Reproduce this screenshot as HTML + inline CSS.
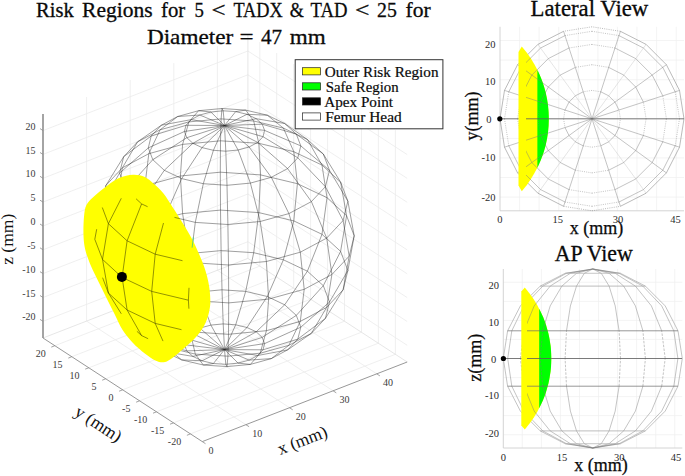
<!DOCTYPE html><html><head><meta charset="utf-8"><style>html,body{margin:0;padding:0;background:#fff}svg{display:block}</style></head><body><svg width="685" height="476" viewBox="0 0 685 476"><line x1="245.9" y1="424.7" x2="86.6" y2="321.1" stroke="#ebebeb" stroke-width="0.8" /><line x1="86.6" y1="321.1" x2="86.6" y2="97.0" stroke="#ebebeb" stroke-width="0.8" /><line x1="289.5" y1="407.7" x2="130.2" y2="304.1" stroke="#ebebeb" stroke-width="0.8" /><line x1="130.2" y1="304.1" x2="130.2" y2="80.0" stroke="#ebebeb" stroke-width="0.8" /><line x1="333.1" y1="390.8" x2="173.8" y2="287.2" stroke="#ebebeb" stroke-width="0.8" /><line x1="173.8" y1="287.2" x2="173.8" y2="63.1" stroke="#ebebeb" stroke-width="0.8" /><line x1="376.7" y1="373.8" x2="217.4" y2="270.3" stroke="#ebebeb" stroke-width="0.8" /><line x1="217.4" y1="270.3" x2="217.4" y2="46.2" stroke="#ebebeb" stroke-width="0.8" /><line x1="190.4" y1="433.9" x2="395.4" y2="354.3" stroke="#ebebeb" stroke-width="0.8" /><line x1="395.4" y1="354.3" x2="395.4" y2="130.2" stroke="#ebebeb" stroke-width="0.8" /><line x1="173.5" y1="422.9" x2="378.4" y2="343.2" stroke="#ebebeb" stroke-width="0.8" /><line x1="378.4" y1="343.2" x2="378.4" y2="119.2" stroke="#ebebeb" stroke-width="0.8" /><line x1="156.5" y1="411.8" x2="361.5" y2="332.2" stroke="#ebebeb" stroke-width="0.8" /><line x1="361.5" y1="332.2" x2="361.5" y2="108.1" stroke="#ebebeb" stroke-width="0.8" /><line x1="139.6" y1="400.8" x2="344.5" y2="321.2" stroke="#ebebeb" stroke-width="0.8" /><line x1="344.5" y1="321.2" x2="344.5" y2="97.1" stroke="#ebebeb" stroke-width="0.8" /><line x1="122.7" y1="389.8" x2="327.6" y2="310.2" stroke="#ebebeb" stroke-width="0.8" /><line x1="327.6" y1="310.2" x2="327.6" y2="86.1" stroke="#ebebeb" stroke-width="0.8" /><line x1="105.7" y1="378.8" x2="310.6" y2="299.2" stroke="#ebebeb" stroke-width="0.8" /><line x1="310.6" y1="299.2" x2="310.6" y2="75.1" stroke="#ebebeb" stroke-width="0.8" /><line x1="88.8" y1="367.8" x2="293.7" y2="288.1" stroke="#ebebeb" stroke-width="0.8" /><line x1="293.7" y1="288.1" x2="293.7" y2="64.1" stroke="#ebebeb" stroke-width="0.8" /><line x1="71.8" y1="356.7" x2="276.7" y2="277.1" stroke="#ebebeb" stroke-width="0.8" /><line x1="276.7" y1="277.1" x2="276.7" y2="53.0" stroke="#ebebeb" stroke-width="0.8" /><line x1="54.9" y1="345.7" x2="259.8" y2="266.1" stroke="#ebebeb" stroke-width="0.8" /><line x1="259.8" y1="266.1" x2="259.8" y2="42.0" stroke="#ebebeb" stroke-width="0.8" /><line x1="43.0" y1="321.3" x2="247.9" y2="241.7" stroke="#ebebeb" stroke-width="0.8" /><line x1="407.2" y1="345.3" x2="247.9" y2="241.7" stroke="#ebebeb" stroke-width="0.8" /><line x1="43.0" y1="297.5" x2="247.9" y2="217.9" stroke="#ebebeb" stroke-width="0.8" /><line x1="407.2" y1="321.5" x2="247.9" y2="217.9" stroke="#ebebeb" stroke-width="0.8" /><line x1="43.0" y1="273.6" x2="247.9" y2="194.0" stroke="#ebebeb" stroke-width="0.8" /><line x1="407.2" y1="297.6" x2="247.9" y2="194.0" stroke="#ebebeb" stroke-width="0.8" /><line x1="43.0" y1="249.8" x2="247.9" y2="170.2" stroke="#ebebeb" stroke-width="0.8" /><line x1="407.2" y1="273.8" x2="247.9" y2="170.2" stroke="#ebebeb" stroke-width="0.8" /><line x1="43.0" y1="226.0" x2="247.9" y2="146.3" stroke="#ebebeb" stroke-width="0.8" /><line x1="407.2" y1="249.9" x2="247.9" y2="146.3" stroke="#ebebeb" stroke-width="0.8" /><line x1="43.0" y1="202.1" x2="247.9" y2="122.5" stroke="#ebebeb" stroke-width="0.8" /><line x1="407.2" y1="226.1" x2="247.9" y2="122.5" stroke="#ebebeb" stroke-width="0.8" /><line x1="43.0" y1="178.3" x2="247.9" y2="98.7" stroke="#ebebeb" stroke-width="0.8" /><line x1="407.2" y1="202.3" x2="247.9" y2="98.7" stroke="#ebebeb" stroke-width="0.8" /><line x1="43.0" y1="154.4" x2="247.9" y2="74.8" stroke="#ebebeb" stroke-width="0.8" /><line x1="407.2" y1="178.4" x2="247.9" y2="74.8" stroke="#ebebeb" stroke-width="0.8" /><line x1="43.0" y1="130.6" x2="247.9" y2="51.0" stroke="#ebebeb" stroke-width="0.8" /><line x1="407.2" y1="154.6" x2="247.9" y2="51.0" stroke="#ebebeb" stroke-width="0.8" /><line x1="247.9" y1="258.4" x2="247.9" y2="34.3" stroke="#e0e0e0" stroke-width="0.8" /><line x1="43.0" y1="338.0" x2="247.9" y2="258.4" stroke="#e0e0e0" stroke-width="0.8" /><line x1="407.2" y1="362.0" x2="247.9" y2="258.4" stroke="#e0e0e0" stroke-width="0.8" /><g fill="none" stroke="#2a2a2a" stroke-width="0.45" stroke-linejoin="round"><polyline points="224.5,349.6 256.2,331.8 284.7,304.8 307.4,271.2 322.0,234.3 327.0,197.7 322.0,165.1 307.4,139.5 284.7,123.5 256.2,118.7 224.5,125.5"/><polyline points="224.5,349.6 247.0,327.5 267.3,296.5 283.4,259.8 293.8,220.9 297.4,183.7 293.8,151.7 283.4,128.1 267.3,115.2 247.0,114.3 224.5,125.5"/><polyline points="224.5,349.6 235.7,324.8 245.7,291.4 253.7,252.7 258.8,212.6 260.6,174.9 258.8,143.3 253.7,121.0 245.7,110.1 235.7,111.6 224.5,125.5"/><polyline points="224.5,349.6 223.2,323.9 222.0,289.8 221.1,250.6 220.5,210.1 220.3,172.2 220.5,140.8 221.1,118.9 222.0,108.5 223.2,110.8 224.5,125.5"/><polyline points="224.5,349.6 210.9,325.1 198.6,292.0 188.9,253.6 182.6,213.6 180.4,176.0 182.6,144.4 188.9,121.9 198.6,110.7 210.9,112.0 224.5,125.5"/><polyline points="224.5,349.6 199.9,328.1 177.7,297.8 160.1,261.5 148.8,222.9 144.9,185.8 148.8,153.7 160.1,129.8 177.7,116.5 199.9,115.0 224.5,125.5"/><polyline points="224.5,349.6 191.3,332.7 161.4,306.5 137.6,273.5 122.4,237.0 117.1,200.6 122.4,167.8 137.6,141.8 161.4,125.2 191.3,119.6 224.5,125.5"/><polyline points="224.5,349.6 186.0,338.4 151.2,317.3 123.7,288.4 106.0,254.6 99.9,219.0 106.0,185.3 123.7,156.7 151.2,136.0 186.0,125.3 224.5,125.5"/><polyline points="224.5,349.6 184.4,344.7 148.3,329.2 119.6,304.8 101.2,273.8 94.8,239.3 101.2,204.6 119.6,173.1 148.3,147.9 184.4,131.5 224.5,125.5"/><polyline points="224.5,349.6 186.8,350.9 152.8,341.0 125.8,321.1 108.4,293.0 102.5,259.4 108.4,223.7 125.8,189.4 152.8,159.7 186.8,137.7 224.5,125.5"/><polyline points="224.5,349.6 192.9,356.4 164.3,351.6 141.6,335.6 127.1,310.0 122.1,277.4 127.1,240.8 141.6,203.9 164.3,170.3 192.9,143.3 224.5,125.5"/><polyline points="224.5,349.6 202.0,360.8 181.7,359.9 165.6,347.0 155.2,323.4 151.7,291.4 155.2,254.2 165.6,215.3 181.7,178.6 202.0,147.6 224.5,125.5"/><polyline points="224.5,349.6 213.4,363.5 203.3,365.0 195.3,354.1 190.2,331.8 188.4,300.2 190.2,262.5 195.3,222.4 203.3,183.7 213.4,150.3 224.5,125.5"/><polyline points="224.5,349.6 225.8,364.3 227.0,366.6 227.9,356.2 228.5,334.3 228.7,302.9 228.5,265.0 227.9,224.5 227.0,185.3 225.8,151.2 224.5,125.5"/><polyline points="224.5,349.6 238.1,363.1 250.4,364.4 260.2,353.2 266.4,330.7 268.6,299.1 266.4,261.5 260.2,221.5 250.4,183.1 238.1,150.0 224.5,125.5"/><polyline points="224.5,349.6 249.1,360.1 271.3,358.6 288.9,345.3 300.3,321.4 304.2,289.3 300.3,252.2 288.9,213.6 271.3,177.3 249.1,147.0 224.5,125.5"/><polyline points="224.5,349.6 257.7,355.5 287.6,349.9 311.4,333.3 326.7,307.3 331.9,274.5 326.7,238.1 311.4,201.6 287.6,168.6 257.7,142.4 224.5,125.5"/><polyline points="224.5,349.6 263.0,349.8 297.8,339.1 325.4,318.4 343.1,289.8 349.2,256.1 343.1,220.5 325.4,186.7 297.8,157.8 263.0,136.7 224.5,125.5"/><polyline points="224.5,349.6 264.6,343.6 300.8,327.2 329.5,302.0 347.9,270.5 354.2,235.8 347.9,201.2 329.5,170.3 300.8,145.9 264.6,130.4 224.5,125.5"/><polyline points="224.5,349.6 262.2,337.4 296.3,315.4 323.3,285.7 340.6,251.4 346.6,215.7 340.6,182.1 323.3,154.0 296.3,134.1 262.2,124.2 224.5,125.5"/><polygon points="256.2,331.8 247.0,327.5 235.7,324.8 223.2,323.9 210.9,325.1 199.9,328.1 191.3,332.7 186.0,338.4 184.4,344.7 186.8,350.9 192.9,356.4 202.0,360.8 213.4,363.5 225.8,364.3 238.1,363.1 249.1,360.1 257.7,355.5 263.0,349.8 264.6,343.6 262.2,337.4"/><polygon points="284.7,304.8 267.3,296.5 245.7,291.4 222.0,289.8 198.6,292.0 177.7,297.8 161.4,306.5 151.2,317.3 148.3,329.2 152.8,341.0 164.3,351.6 181.7,359.9 203.3,365.0 227.0,366.6 250.4,364.4 271.3,358.6 287.6,349.9 297.8,339.1 300.8,327.2 296.3,315.4"/><polygon points="307.4,271.2 283.4,259.8 253.7,252.7 221.1,250.6 188.9,253.6 160.1,261.5 137.6,273.5 123.7,288.4 119.6,304.8 125.8,321.1 141.6,335.6 165.6,347.0 195.3,354.1 227.9,356.2 260.2,353.2 288.9,345.3 311.4,333.3 325.4,318.4 329.5,302.0 323.3,285.7"/><polygon points="322.0,234.3 293.8,220.9 258.8,212.6 220.5,210.1 182.6,213.6 148.8,222.9 122.4,237.0 106.0,254.6 101.2,273.8 108.4,293.0 127.1,310.0 155.2,323.4 190.2,331.8 228.5,334.3 266.4,330.7 300.3,321.4 326.7,307.3 343.1,289.8 347.9,270.5 340.6,251.4"/><polygon points="327.0,197.7 297.4,183.7 260.6,174.9 220.3,172.2 180.4,176.0 144.9,185.8 117.1,200.6 99.9,219.0 94.8,239.3 102.5,259.4 122.1,277.4 151.7,291.4 188.4,300.2 228.7,302.9 268.6,299.1 304.2,289.3 331.9,274.5 349.2,256.1 354.2,235.8 346.6,215.7"/><polygon points="322.0,165.1 293.8,151.7 258.8,143.3 220.5,140.8 182.6,144.4 148.8,153.7 122.4,167.8 106.0,185.3 101.2,204.6 108.4,223.7 127.1,240.8 155.2,254.2 190.2,262.5 228.5,265.0 266.4,261.5 300.3,252.2 326.7,238.1 343.1,220.5 347.9,201.2 340.6,182.1"/><polygon points="307.4,139.5 283.4,128.1 253.7,121.0 221.1,118.9 188.9,121.9 160.1,129.8 137.6,141.8 123.7,156.7 119.6,173.1 125.8,189.4 141.6,203.9 165.6,215.3 195.3,222.4 227.9,224.5 260.2,221.5 288.9,213.6 311.4,201.6 325.4,186.7 329.5,170.3 323.3,154.0"/><polygon points="284.7,123.5 267.3,115.2 245.7,110.1 222.0,108.5 198.6,110.7 177.7,116.5 161.4,125.2 151.2,136.0 148.3,147.9 152.8,159.7 164.3,170.3 181.7,178.6 203.3,183.7 227.0,185.3 250.4,183.1 271.3,177.3 287.6,168.6 297.8,157.8 300.8,145.9 296.3,134.1"/><polygon points="256.2,118.7 247.0,114.3 235.7,111.6 223.2,110.8 210.9,112.0 199.9,115.0 191.3,119.6 186.0,125.3 184.4,131.5 186.8,137.7 192.9,143.3 202.0,147.6 213.4,150.3 225.8,151.2 238.1,150.0 249.1,147.0 257.7,142.4 263.0,136.7 264.6,130.4 262.2,124.2"/></g><path d="M133.0,174.7 C137.3,174.5 141.3,175.4 144.8,177.0 C148.3,178.6 150.9,181.3 154.0,184.0 C157.1,186.7 160.4,189.5 163.5,193.4 C166.6,197.3 169.3,202.0 172.8,207.4 C176.3,212.8 181.0,220.2 184.5,226.0 C188.0,231.8 190.9,236.6 193.8,242.4 C196.7,248.2 199.8,255.6 202.0,261.0 C204.2,266.4 205.4,270.1 206.7,275.0 C208.0,279.9 209.1,285.1 209.7,290.4 C210.2,295.7 210.7,301.3 210.0,306.7 C209.3,312.1 207.8,317.9 205.5,323.0 C203.2,328.1 199.9,332.5 196.0,337.0 C192.1,341.5 186.2,346.3 182.0,350.0 C177.8,353.7 173.6,357.2 170.5,359.3 C167.4,361.4 166.0,362.1 163.5,362.3 C161.0,362.5 158.4,362.0 155.3,360.5 C152.2,359.0 148.5,356.4 144.8,353.5 C141.1,350.6 136.7,346.9 133.0,343.0 C129.3,339.1 125.7,334.9 122.6,330.0 C119.5,325.1 117.3,319.5 114.4,313.7 C111.5,307.9 108.1,301.3 105.0,295.0 C101.9,288.7 98.2,281.2 95.7,276.0 C93.2,270.8 91.7,267.9 89.9,263.5 C88.2,259.1 86.3,254.1 85.2,249.4 C84.1,244.7 83.7,240.9 83.5,235.4 C83.3,229.9 83.5,221.8 84.0,216.7 C84.5,211.6 84.8,208.3 86.4,205.0 C88.0,201.7 90.1,200.0 93.4,196.9 C96.7,193.8 101.9,189.6 106.2,186.4 C110.5,183.2 114.5,179.9 119.0,178.0 C123.5,176.1 128.7,174.9 133.0,174.7Z" fill="#ffff00"/><clipPath id="bc"><path d="M133.0,174.7 C137.3,174.5 141.3,175.4 144.8,177.0 C148.3,178.6 150.9,181.3 154.0,184.0 C157.1,186.7 160.4,189.5 163.5,193.4 C166.6,197.3 169.3,202.0 172.8,207.4 C176.3,212.8 181.0,220.2 184.5,226.0 C188.0,231.8 190.9,236.6 193.8,242.4 C196.7,248.2 199.8,255.6 202.0,261.0 C204.2,266.4 205.4,270.1 206.7,275.0 C208.0,279.9 209.1,285.1 209.7,290.4 C210.2,295.7 210.7,301.3 210.0,306.7 C209.3,312.1 207.8,317.9 205.5,323.0 C203.2,328.1 199.9,332.5 196.0,337.0 C192.1,341.5 186.2,346.3 182.0,350.0 C177.8,353.7 173.6,357.2 170.5,359.3 C167.4,361.4 166.0,362.1 163.5,362.3 C161.0,362.5 158.4,362.0 155.3,360.5 C152.2,359.0 148.5,356.4 144.8,353.5 C141.1,350.6 136.7,346.9 133.0,343.0 C129.3,339.1 125.7,334.9 122.6,330.0 C119.5,325.1 117.3,319.5 114.4,313.7 C111.5,307.9 108.1,301.3 105.0,295.0 C101.9,288.7 98.2,281.2 95.7,276.0 C93.2,270.8 91.7,267.9 89.9,263.5 C88.2,259.1 86.3,254.1 85.2,249.4 C84.1,244.7 83.7,240.9 83.5,235.4 C83.3,229.9 83.5,221.8 84.0,216.7 C84.5,211.6 84.8,208.3 86.4,205.0 C88.0,201.7 90.1,200.0 93.4,196.9 C96.7,193.8 101.9,189.6 106.2,186.4 C110.5,183.2 114.5,179.9 119.0,178.0 C123.5,176.1 128.7,174.9 133.0,174.7Z"/></clipPath><g fill="none" stroke="#3a3a00" stroke-width="0.55" clip-path="url(#bc)"><polyline points="141.6,203.9 127.1,240.8 122.1,277.4 127.1,310.0 141.6,335.6"/><polyline points="136.1,198.8 141.6,203.9 147.6,206.7"/><polyline points="102.3,207.5 108.4,223.7 127.1,240.8 155.2,254.2 182.5,260.7"/><polyline points="121.3,198.3 108.4,223.7 102.5,259.4 108.4,293.0 121.3,313.8"/><polyline points="163.5,223.0 155.2,254.2 151.7,291.4 155.2,323.4 163.0,341.1"/><polyline points="96.7,229.2 94.8,239.3 102.5,259.4 122.1,277.4 151.7,291.4 188.4,300.2"/><polyline points="189.0,287.8 188.4,300.2 188.9,308.7"/><polyline points="102.6,277.7 108.4,293.0 127.1,310.0 155.2,323.4 181.5,329.7"/><polyline points="136.9,331.3 141.6,335.6 148.1,338.7"/><polyline points="174.5,217.4 180.5,218.8"/></g><polyline points="193.4,237.2 192.1,247.7" fill="none" stroke="#40d080" stroke-width="0.8"/><circle cx="121.9" cy="276.9" r="5" fill="#000"/><line x1="43.0" y1="338.0" x2="43.0" y2="113.9" stroke="#a0a0a0" stroke-width="1.9" /><line x1="43.0" y1="338.0" x2="202.3" y2="441.6" stroke="#8c8c8c" stroke-width="0.9" /><line x1="202.3" y1="441.6" x2="407.2" y2="362.0" stroke="#8c8c8c" stroke-width="0.9" /><g font-family="Liberation Serif" font-size="10" fill="#3a3a3a"><line x1="43.0" y1="321.3" x2="40.0" y2="319.4" stroke="#8c8c8c" stroke-width="0.8" /><text x="35.5" y="320.4" text-anchor="end">-20</text><line x1="43.0" y1="297.5" x2="40.0" y2="295.5" stroke="#8c8c8c" stroke-width="0.8" /><text x="35.5" y="296.6" text-anchor="end">-15</text><line x1="43.0" y1="273.6" x2="40.0" y2="271.7" stroke="#8c8c8c" stroke-width="0.8" /><text x="35.5" y="272.7" text-anchor="end">-10</text><line x1="43.0" y1="249.8" x2="40.0" y2="247.8" stroke="#8c8c8c" stroke-width="0.8" /><text x="35.5" y="248.9" text-anchor="end">-5</text><line x1="43.0" y1="226.0" x2="40.0" y2="224.0" stroke="#8c8c8c" stroke-width="0.8" /><text x="35.5" y="225.1" text-anchor="end">0</text><line x1="43.0" y1="202.1" x2="40.0" y2="200.2" stroke="#8c8c8c" stroke-width="0.8" /><text x="35.5" y="201.2" text-anchor="end">5</text><line x1="43.0" y1="178.3" x2="40.0" y2="176.3" stroke="#8c8c8c" stroke-width="0.8" /><text x="35.5" y="177.4" text-anchor="end">10</text><line x1="43.0" y1="154.4" x2="40.0" y2="152.5" stroke="#8c8c8c" stroke-width="0.8" /><text x="35.5" y="153.5" text-anchor="end">15</text><line x1="43.0" y1="130.6" x2="40.0" y2="128.6" stroke="#8c8c8c" stroke-width="0.8" /><text x="35.5" y="129.7" text-anchor="end">20</text><line x1="190.4" y1="433.9" x2="186.9" y2="435.3" stroke="#8c8c8c" stroke-width="0.8" /><text x="181.2" y="444.8" text-anchor="end">-20</text><line x1="173.5" y1="422.9" x2="170.0" y2="424.2" stroke="#8c8c8c" stroke-width="0.8" /><text x="164.3" y="433.8" text-anchor="end">-15</text><line x1="156.5" y1="411.8" x2="153.0" y2="413.2" stroke="#8c8c8c" stroke-width="0.8" /><text x="147.3" y="422.7" text-anchor="end">-10</text><line x1="139.6" y1="400.8" x2="136.1" y2="402.2" stroke="#8c8c8c" stroke-width="0.8" /><text x="130.4" y="411.7" text-anchor="end">-5</text><line x1="122.7" y1="389.8" x2="119.1" y2="391.2" stroke="#8c8c8c" stroke-width="0.8" /><text x="113.5" y="400.7" text-anchor="end">0</text><line x1="105.7" y1="378.8" x2="102.2" y2="380.2" stroke="#8c8c8c" stroke-width="0.8" /><text x="96.5" y="389.7" text-anchor="end">5</text><line x1="88.8" y1="367.8" x2="85.2" y2="369.1" stroke="#8c8c8c" stroke-width="0.8" /><text x="79.6" y="378.7" text-anchor="end">10</text><line x1="71.8" y1="356.7" x2="68.3" y2="358.1" stroke="#8c8c8c" stroke-width="0.8" /><text x="62.6" y="367.6" text-anchor="end">15</text><line x1="54.9" y1="345.7" x2="51.3" y2="347.1" stroke="#8c8c8c" stroke-width="0.8" /><text x="45.7" y="356.6" text-anchor="end">20</text><line x1="202.3" y1="441.6" x2="205.5" y2="443.7" stroke="#8c8c8c" stroke-width="0.8" /><text x="208.6" y="454.0">0</text><line x1="245.9" y1="424.7" x2="249.1" y2="426.7" stroke="#8c8c8c" stroke-width="0.8" /><text x="252.2" y="437.1">10</text><line x1="289.5" y1="407.7" x2="292.7" y2="409.8" stroke="#8c8c8c" stroke-width="0.8" /><text x="295.8" y="420.1">20</text><line x1="333.1" y1="390.8" x2="336.3" y2="392.9" stroke="#8c8c8c" stroke-width="0.8" /><text x="339.4" y="403.2">30</text><line x1="376.7" y1="373.8" x2="379.9" y2="375.9" stroke="#8c8c8c" stroke-width="0.8" /><text x="383.0" y="386.2">40</text></g><g font-family="Liberation Serif" font-size="17.5" fill="#111" text-anchor="middle"><text transform="translate(12.9,239.3) rotate(-90)">z (mm)</text><text transform="translate(95.3,428.6) rotate(33)">y (mm)</text><text transform="translate(304.4,445.7) rotate(-21.2)">x (mm)</text></g><g font-family="Liberation Serif" font-size="21" fill="#0a0a0a" stroke="#0a0a0a" stroke-width="0.3"><text x="36.1" y="16.8" textLength="37.6" lengthAdjust="spacingAndGlyphs">Risk</text><text x="82.1" y="16.8" textLength="70.5" lengthAdjust="spacingAndGlyphs">Regions</text><text x="161.0" y="16.8" textLength="24.2" lengthAdjust="spacingAndGlyphs">for</text><text x="194.6" y="16.8" textLength="9.4" lengthAdjust="spacingAndGlyphs">5</text><text x="211.4" y="16.8" textLength="14.1" lengthAdjust="spacingAndGlyphs">&lt;</text><text x="233.4" y="16.8" textLength="49.3" lengthAdjust="spacingAndGlyphs">TADX</text><text x="289.8" y="16.8" textLength="14.1" lengthAdjust="spacingAndGlyphs">&amp;</text><text x="310.6" y="16.8" textLength="36.9" lengthAdjust="spacingAndGlyphs">TAD</text><text x="354.9" y="16.8" textLength="14.5" lengthAdjust="spacingAndGlyphs">&lt;</text><text x="377.1" y="16.8" textLength="19.8" lengthAdjust="spacingAndGlyphs">25</text><text x="405.6" y="16.8" textLength="25.2" lengthAdjust="spacingAndGlyphs">for</text></g><g font-family="Liberation Serif" font-size="21" fill="#0a0a0a" stroke="#0a0a0a" stroke-width="0.3"><text x="146.9" y="43.6" textLength="86.3" lengthAdjust="spacingAndGlyphs">Diameter</text><text x="239.4" y="43.6" textLength="14.1" lengthAdjust="spacingAndGlyphs">=</text><text x="260.9" y="43.6" textLength="21.1" lengthAdjust="spacingAndGlyphs">47</text><text x="289.8" y="43.6" textLength="35.9" lengthAdjust="spacingAndGlyphs">mm</text></g><rect x="295.2" y="59.7" width="147.7" height="69.1" fill="#fff" stroke="#333" stroke-width="1"/><g font-family="Liberation Serif" font-size="15" fill="#0a0a0a" stroke="#0a0a0a" stroke-width="0.2"><rect x="302.5" y="67.7" width="18" height="7.2" fill="#ffff00" stroke="#222" stroke-width="0.7"/><text x="324.7" y="76.9" textLength="113.8" lengthAdjust="spacingAndGlyphs">Outer Risk Region</text><rect x="302.5" y="82.8" width="18" height="7.2" fill="#00ff00" stroke="#222" stroke-width="0.7"/><text x="325.8" y="92.0" textLength="72.8" lengthAdjust="spacingAndGlyphs">Safe Region</text><rect x="302.5" y="97.8" width="18" height="7.2" fill="#000" stroke="#222" stroke-width="0.7"/><text x="324.2" y="107.0" textLength="68.8" lengthAdjust="spacingAndGlyphs">Apex Point</text><rect x="302.5" y="112.9" width="18" height="7.2" fill="#fff" stroke="#222" stroke-width="0.7"/><text x="325.2" y="122.1" textLength="76.5" lengthAdjust="spacingAndGlyphs">Femur Head</text></g><line x1="519.6" y1="210.8" x2="519.6" y2="26.8" stroke="#efefef" stroke-width="0.7" /><line x1="539.1" y1="210.8" x2="539.1" y2="26.8" stroke="#efefef" stroke-width="0.7" /><line x1="558.7" y1="210.8" x2="558.7" y2="26.8" stroke="#efefef" stroke-width="0.7" /><line x1="578.3" y1="210.8" x2="578.3" y2="26.8" stroke="#efefef" stroke-width="0.7" /><line x1="597.9" y1="210.8" x2="597.9" y2="26.8" stroke="#efefef" stroke-width="0.7" /><line x1="617.4" y1="210.8" x2="617.4" y2="26.8" stroke="#efefef" stroke-width="0.7" /><line x1="637.0" y1="210.8" x2="637.0" y2="26.8" stroke="#efefef" stroke-width="0.7" /><line x1="656.6" y1="210.8" x2="656.6" y2="26.8" stroke="#efefef" stroke-width="0.7" /><line x1="676.2" y1="210.8" x2="676.2" y2="26.8" stroke="#efefef" stroke-width="0.7" /><line x1="500.0" y1="197.1" x2="684.0" y2="197.1" stroke="#efefef" stroke-width="0.7" /><line x1="500.0" y1="177.5" x2="684.0" y2="177.5" stroke="#efefef" stroke-width="0.7" /><line x1="500.0" y1="157.9" x2="684.0" y2="157.9" stroke="#efefef" stroke-width="0.7" /><line x1="500.0" y1="138.4" x2="684.0" y2="138.4" stroke="#efefef" stroke-width="0.7" /><line x1="500.0" y1="118.8" x2="684.0" y2="118.8" stroke="#efefef" stroke-width="0.7" /><line x1="500.0" y1="99.2" x2="684.0" y2="99.2" stroke="#efefef" stroke-width="0.7" /><line x1="500.0" y1="79.7" x2="684.0" y2="79.7" stroke="#efefef" stroke-width="0.7" /><line x1="500.0" y1="60.1" x2="684.0" y2="60.1" stroke="#efefef" stroke-width="0.7" /><line x1="500.0" y1="40.5" x2="684.0" y2="40.5" stroke="#efefef" stroke-width="0.7" /><line x1="500.0" y1="210.8" x2="500.0" y2="26.8" stroke="#cfcfcf" stroke-width="0.9" /><line x1="500.0" y1="210.8" x2="684.0" y2="210.8" stroke="#cfcfcf" stroke-width="0.9" /><line x1="592.0" y1="118.8" x2="679.5" y2="90.4" stroke="#7c7c7c" stroke-width="0.45" /><line x1="592.0" y1="118.8" x2="666.4" y2="64.7" stroke="#7c7c7c" stroke-width="0.45" /><line x1="592.0" y1="118.8" x2="646.1" y2="44.4" stroke="#c4c4c4" stroke-width="0.45" /><line x1="592.0" y1="118.8" x2="620.4" y2="31.3" stroke="#7c7c7c" stroke-width="0.45" /><line x1="592.0" y1="118.8" x2="563.6" y2="31.3" stroke="#7c7c7c" stroke-width="0.45" /><line x1="592.0" y1="118.8" x2="537.9" y2="44.4" stroke="#c4c4c4" stroke-width="0.45" /><line x1="592.0" y1="118.8" x2="517.6" y2="64.7" stroke="#7c7c7c" stroke-width="0.45" /><line x1="592.0" y1="118.8" x2="504.5" y2="90.4" stroke="#7c7c7c" stroke-width="0.45" /><line x1="592.0" y1="118.8" x2="504.5" y2="147.2" stroke="#7c7c7c" stroke-width="0.45" /><line x1="592.0" y1="118.8" x2="517.6" y2="172.9" stroke="#7c7c7c" stroke-width="0.45" /><line x1="592.0" y1="118.8" x2="537.9" y2="193.2" stroke="#c4c4c4" stroke-width="0.45" /><line x1="592.0" y1="118.8" x2="563.6" y2="206.3" stroke="#7c7c7c" stroke-width="0.45" /><line x1="592.0" y1="118.8" x2="620.4" y2="206.3" stroke="#7c7c7c" stroke-width="0.45" /><line x1="592.0" y1="118.8" x2="646.1" y2="193.2" stroke="#c4c4c4" stroke-width="0.45" /><line x1="592.0" y1="118.8" x2="666.4" y2="172.9" stroke="#7c7c7c" stroke-width="0.45" /><line x1="592.0" y1="118.8" x2="679.5" y2="147.2" stroke="#7c7c7c" stroke-width="0.45" /><line x1="684.0" y1="118.8" x2="679.5" y2="90.4" stroke="#666" stroke-width="0.45" /><line x1="679.5" y1="90.4" x2="666.4" y2="64.7" stroke="#666" stroke-width="0.45" /><line x1="666.4" y1="64.7" x2="646.1" y2="44.4" stroke="#666" stroke-width="0.45" /><line x1="646.1" y1="44.4" x2="620.4" y2="31.3" stroke="#666" stroke-width="0.45" /><line x1="620.4" y1="31.3" x2="592.0" y2="26.8" stroke="#666" stroke-width="0.45" stroke-dasharray="1 1.2"/><line x1="592.0" y1="26.8" x2="563.6" y2="31.3" stroke="#666" stroke-width="0.45" stroke-dasharray="1 1.2"/><line x1="563.6" y1="31.3" x2="537.9" y2="44.4" stroke="#666" stroke-width="0.45" /><line x1="537.9" y1="44.4" x2="517.6" y2="64.7" stroke="#666" stroke-width="0.45" /><line x1="517.6" y1="64.7" x2="504.5" y2="90.4" stroke="#666" stroke-width="0.45" /><line x1="504.5" y1="90.4" x2="500.0" y2="118.8" stroke="#666" stroke-width="0.45" /><line x1="500.0" y1="118.8" x2="504.5" y2="147.2" stroke="#666" stroke-width="0.45" /><line x1="504.5" y1="147.2" x2="517.6" y2="172.9" stroke="#666" stroke-width="0.45" /><line x1="517.6" y1="172.9" x2="537.9" y2="193.2" stroke="#666" stroke-width="0.45" /><line x1="537.9" y1="193.2" x2="563.6" y2="206.3" stroke="#666" stroke-width="0.45" /><line x1="563.6" y1="206.3" x2="592.0" y2="210.8" stroke="#666" stroke-width="0.45" stroke-dasharray="1 1.2"/><line x1="592.0" y1="210.8" x2="620.4" y2="206.3" stroke="#666" stroke-width="0.45" stroke-dasharray="1 1.2"/><line x1="620.4" y1="206.3" x2="646.1" y2="193.2" stroke="#666" stroke-width="0.45" /><line x1="646.1" y1="193.2" x2="666.4" y2="172.9" stroke="#666" stroke-width="0.45" /><line x1="666.4" y1="172.9" x2="679.5" y2="147.2" stroke="#666" stroke-width="0.45" /><line x1="679.5" y1="147.2" x2="684.0" y2="118.8" stroke="#666" stroke-width="0.45" /><line x1="679.5" y1="118.8" x2="675.2" y2="91.8" stroke="#7c7c7c" stroke-width="0.45" stroke-dasharray="1 1.2"/><line x1="675.2" y1="91.8" x2="662.8" y2="67.4" stroke="#7c7c7c" stroke-width="0.45" /><line x1="662.8" y1="67.4" x2="643.4" y2="48.0" stroke="#7c7c7c" stroke-width="0.45" /><line x1="643.4" y1="48.0" x2="619.0" y2="35.6" stroke="#7c7c7c" stroke-width="0.45" /><line x1="619.0" y1="35.6" x2="592.0" y2="31.3" stroke="#7c7c7c" stroke-width="0.45" stroke-dasharray="1 1.2"/><line x1="592.0" y1="31.3" x2="565.0" y2="35.6" stroke="#7c7c7c" stroke-width="0.45" stroke-dasharray="1 1.2"/><line x1="565.0" y1="35.6" x2="540.6" y2="48.0" stroke="#7c7c7c" stroke-width="0.45" /><line x1="540.6" y1="48.0" x2="521.2" y2="67.4" stroke="#7c7c7c" stroke-width="0.45" /><line x1="521.2" y1="67.4" x2="508.8" y2="91.8" stroke="#7c7c7c" stroke-width="0.45" /><line x1="508.8" y1="91.8" x2="504.5" y2="118.8" stroke="#7c7c7c" stroke-width="0.45" stroke-dasharray="1 1.2"/><line x1="504.5" y1="118.8" x2="508.8" y2="145.8" stroke="#7c7c7c" stroke-width="0.45" stroke-dasharray="1 1.2"/><line x1="508.8" y1="145.8" x2="521.2" y2="170.2" stroke="#7c7c7c" stroke-width="0.45" /><line x1="521.2" y1="170.2" x2="540.6" y2="189.6" stroke="#7c7c7c" stroke-width="0.45" /><line x1="540.6" y1="189.6" x2="565.0" y2="202.0" stroke="#7c7c7c" stroke-width="0.45" /><line x1="565.0" y1="202.0" x2="592.0" y2="206.3" stroke="#7c7c7c" stroke-width="0.45" stroke-dasharray="1 1.2"/><line x1="592.0" y1="206.3" x2="619.0" y2="202.0" stroke="#7c7c7c" stroke-width="0.45" stroke-dasharray="1 1.2"/><line x1="619.0" y1="202.0" x2="643.4" y2="189.6" stroke="#7c7c7c" stroke-width="0.45" /><line x1="643.4" y1="189.6" x2="662.8" y2="170.2" stroke="#7c7c7c" stroke-width="0.45" /><line x1="662.8" y1="170.2" x2="675.2" y2="145.8" stroke="#7c7c7c" stroke-width="0.45" /><line x1="675.2" y1="145.8" x2="679.5" y2="118.8" stroke="#7c7c7c" stroke-width="0.45" stroke-dasharray="1 1.2"/><line x1="666.4" y1="118.8" x2="662.8" y2="95.8" stroke="#7c7c7c" stroke-width="0.45" stroke-dasharray="1 1.2"/><line x1="662.8" y1="95.8" x2="652.2" y2="75.1" stroke="#7c7c7c" stroke-width="0.45" /><line x1="652.2" y1="75.1" x2="635.7" y2="58.6" stroke="#7c7c7c" stroke-width="0.45" /><line x1="635.7" y1="58.6" x2="615.0" y2="48.0" stroke="#7c7c7c" stroke-width="0.45" /><line x1="615.0" y1="48.0" x2="592.0" y2="44.4" stroke="#7c7c7c" stroke-width="0.45" stroke-dasharray="1 1.2"/><line x1="592.0" y1="44.4" x2="569.0" y2="48.0" stroke="#7c7c7c" stroke-width="0.45" stroke-dasharray="1 1.2"/><line x1="569.0" y1="48.0" x2="548.3" y2="58.6" stroke="#7c7c7c" stroke-width="0.45" /><line x1="548.3" y1="58.6" x2="531.8" y2="75.1" stroke="#7c7c7c" stroke-width="0.45" /><line x1="531.8" y1="75.1" x2="521.2" y2="95.8" stroke="#7c7c7c" stroke-width="0.45" /><line x1="521.2" y1="95.8" x2="517.6" y2="118.8" stroke="#7c7c7c" stroke-width="0.45" stroke-dasharray="1 1.2"/><line x1="517.6" y1="118.8" x2="521.2" y2="141.8" stroke="#7c7c7c" stroke-width="0.45" stroke-dasharray="1 1.2"/><line x1="521.2" y1="141.8" x2="531.8" y2="162.5" stroke="#7c7c7c" stroke-width="0.45" /><line x1="531.8" y1="162.5" x2="548.3" y2="179.0" stroke="#7c7c7c" stroke-width="0.45" /><line x1="548.3" y1="179.0" x2="569.0" y2="189.6" stroke="#7c7c7c" stroke-width="0.45" /><line x1="569.0" y1="189.6" x2="592.0" y2="193.2" stroke="#7c7c7c" stroke-width="0.45" stroke-dasharray="1 1.2"/><line x1="592.0" y1="193.2" x2="615.0" y2="189.6" stroke="#7c7c7c" stroke-width="0.45" stroke-dasharray="1 1.2"/><line x1="615.0" y1="189.6" x2="635.7" y2="179.0" stroke="#7c7c7c" stroke-width="0.45" /><line x1="635.7" y1="179.0" x2="652.2" y2="162.5" stroke="#7c7c7c" stroke-width="0.45" /><line x1="652.2" y1="162.5" x2="662.8" y2="141.8" stroke="#7c7c7c" stroke-width="0.45" /><line x1="662.8" y1="141.8" x2="666.4" y2="118.8" stroke="#7c7c7c" stroke-width="0.45" stroke-dasharray="1 1.2"/><line x1="646.1" y1="118.8" x2="643.4" y2="102.1" stroke="#7c7c7c" stroke-width="0.45" stroke-dasharray="1 1.2"/><line x1="643.4" y1="102.1" x2="635.7" y2="87.0" stroke="#7c7c7c" stroke-width="0.45" /><line x1="635.7" y1="87.0" x2="623.8" y2="75.1" stroke="#7c7c7c" stroke-width="0.45" /><line x1="623.8" y1="75.1" x2="608.7" y2="67.4" stroke="#7c7c7c" stroke-width="0.45" /><line x1="608.7" y1="67.4" x2="592.0" y2="64.7" stroke="#7c7c7c" stroke-width="0.45" stroke-dasharray="1 1.2"/><line x1="592.0" y1="64.7" x2="575.3" y2="67.4" stroke="#7c7c7c" stroke-width="0.45" stroke-dasharray="1 1.2"/><line x1="575.3" y1="67.4" x2="560.2" y2="75.1" stroke="#7c7c7c" stroke-width="0.45" /><line x1="560.2" y1="75.1" x2="548.3" y2="87.0" stroke="#7c7c7c" stroke-width="0.45" /><line x1="548.3" y1="87.0" x2="540.6" y2="102.1" stroke="#7c7c7c" stroke-width="0.45" /><line x1="540.6" y1="102.1" x2="537.9" y2="118.8" stroke="#7c7c7c" stroke-width="0.45" stroke-dasharray="1 1.2"/><line x1="537.9" y1="118.8" x2="540.6" y2="135.5" stroke="#7c7c7c" stroke-width="0.45" stroke-dasharray="1 1.2"/><line x1="540.6" y1="135.5" x2="548.3" y2="150.6" stroke="#7c7c7c" stroke-width="0.45" /><line x1="548.3" y1="150.6" x2="560.2" y2="162.5" stroke="#7c7c7c" stroke-width="0.45" /><line x1="560.2" y1="162.5" x2="575.3" y2="170.2" stroke="#7c7c7c" stroke-width="0.45" /><line x1="575.3" y1="170.2" x2="592.0" y2="172.9" stroke="#7c7c7c" stroke-width="0.45" stroke-dasharray="1 1.2"/><line x1="592.0" y1="172.9" x2="608.7" y2="170.2" stroke="#7c7c7c" stroke-width="0.45" stroke-dasharray="1 1.2"/><line x1="608.7" y1="170.2" x2="623.8" y2="162.5" stroke="#7c7c7c" stroke-width="0.45" /><line x1="623.8" y1="162.5" x2="635.7" y2="150.6" stroke="#7c7c7c" stroke-width="0.45" /><line x1="635.7" y1="150.6" x2="643.4" y2="135.5" stroke="#7c7c7c" stroke-width="0.45" /><line x1="643.4" y1="135.5" x2="646.1" y2="118.8" stroke="#7c7c7c" stroke-width="0.45" stroke-dasharray="1 1.2"/><line x1="620.4" y1="118.8" x2="619.0" y2="110.0" stroke="#7c7c7c" stroke-width="0.45" stroke-dasharray="1 1.2"/><line x1="619.0" y1="110.0" x2="615.0" y2="102.1" stroke="#7c7c7c" stroke-width="0.45" /><line x1="615.0" y1="102.1" x2="608.7" y2="95.8" stroke="#7c7c7c" stroke-width="0.45" /><line x1="608.7" y1="95.8" x2="600.8" y2="91.8" stroke="#7c7c7c" stroke-width="0.45" /><line x1="600.8" y1="91.8" x2="592.0" y2="90.4" stroke="#7c7c7c" stroke-width="0.45" stroke-dasharray="1 1.2"/><line x1="592.0" y1="90.4" x2="583.2" y2="91.8" stroke="#7c7c7c" stroke-width="0.45" stroke-dasharray="1 1.2"/><line x1="583.2" y1="91.8" x2="575.3" y2="95.8" stroke="#7c7c7c" stroke-width="0.45" /><line x1="575.3" y1="95.8" x2="569.0" y2="102.1" stroke="#7c7c7c" stroke-width="0.45" /><line x1="569.0" y1="102.1" x2="565.0" y2="110.0" stroke="#7c7c7c" stroke-width="0.45" /><line x1="565.0" y1="110.0" x2="563.6" y2="118.8" stroke="#7c7c7c" stroke-width="0.45" stroke-dasharray="1 1.2"/><line x1="563.6" y1="118.8" x2="565.0" y2="127.6" stroke="#7c7c7c" stroke-width="0.45" stroke-dasharray="1 1.2"/><line x1="565.0" y1="127.6" x2="569.0" y2="135.5" stroke="#7c7c7c" stroke-width="0.45" /><line x1="569.0" y1="135.5" x2="575.3" y2="141.8" stroke="#7c7c7c" stroke-width="0.45" /><line x1="575.3" y1="141.8" x2="583.2" y2="145.8" stroke="#7c7c7c" stroke-width="0.45" /><line x1="583.2" y1="145.8" x2="592.0" y2="147.2" stroke="#7c7c7c" stroke-width="0.45" stroke-dasharray="1 1.2"/><line x1="592.0" y1="147.2" x2="600.8" y2="145.8" stroke="#7c7c7c" stroke-width="0.45" stroke-dasharray="1 1.2"/><line x1="600.8" y1="145.8" x2="608.7" y2="141.8" stroke="#7c7c7c" stroke-width="0.45" /><line x1="608.7" y1="141.8" x2="615.0" y2="135.5" stroke="#7c7c7c" stroke-width="0.45" /><line x1="615.0" y1="135.5" x2="619.0" y2="127.6" stroke="#7c7c7c" stroke-width="0.45" /><line x1="619.0" y1="127.6" x2="620.4" y2="118.8" stroke="#7c7c7c" stroke-width="0.45" stroke-dasharray="1 1.2"/><line x1="499.8" y1="118.8" x2="684.0" y2="118.8" stroke="#5a5a5a" stroke-width="0.8" /><polygon points="521.8,46.4 526.7,52.4 530.9,58.5 534.5,64.5 537.7,70.5 540.4,76.6 542.7,82.6 544.6,88.6 546.1,94.7 547.3,100.7 548.1,106.7 548.6,112.8 548.8,118.8 548.6,124.8 548.1,130.9 547.3,136.9 546.1,142.9 544.6,149.0 542.7,155.0 540.4,161.0 537.7,167.1 534.5,173.1 530.9,179.1 526.7,185.2 521.8,191.2 518.5,185.6 518.5,52.0" fill="#ffff00"/><polygon points="537.4,69.9 539.3,74.0 541.0,78.1 542.5,82.1 543.9,86.2 545.1,90.3 546.1,94.4 546.9,98.4 547.6,102.5 548.1,106.6 548.5,110.7 548.7,114.7 548.8,118.8 548.7,122.9 548.5,126.9 548.1,131.0 547.6,135.1 546.9,139.2 546.1,143.2 545.1,147.3 543.9,151.4 542.5,155.5 541.0,159.5 539.3,163.6 537.4,167.7" fill="#00ff00"/><clipPath id="lc"><polygon points="521.8,46.4 526.7,52.4 530.9,58.5 534.5,64.5 537.7,70.5 540.4,76.6 542.7,82.6 544.6,88.6 546.1,94.7 547.3,100.7 548.1,106.7 548.6,112.8 548.8,118.8 548.6,124.8 548.1,130.9 547.3,136.9 546.1,142.9 544.6,149.0 542.7,155.0 540.4,161.0 537.7,167.1 534.5,173.1 530.9,179.1 526.7,185.2 521.8,191.2 518.5,185.6 518.5,52.0"/></clipPath><clipPath id="lcb"><rect x="526.0" y="0" width="200" height="476"/></clipPath><g clip-path="url(#lc)"><g clip-path="url(#lcb)"><line x1="592.0" y1="118.8" x2="679.5" y2="90.4" stroke="#7c7c7c" stroke-width="0.45" /><line x1="592.0" y1="118.8" x2="666.4" y2="64.7" stroke="#7c7c7c" stroke-width="0.45" /><line x1="592.0" y1="118.8" x2="646.1" y2="44.4" stroke="#c4c4c4" stroke-width="0.45" /><line x1="592.0" y1="118.8" x2="620.4" y2="31.3" stroke="#7c7c7c" stroke-width="0.45" /><line x1="592.0" y1="118.8" x2="563.6" y2="31.3" stroke="#7c7c7c" stroke-width="0.45" /><line x1="592.0" y1="118.8" x2="537.9" y2="44.4" stroke="#c4c4c4" stroke-width="0.45" /><line x1="592.0" y1="118.8" x2="517.6" y2="64.7" stroke="#7c7c7c" stroke-width="0.45" /><line x1="592.0" y1="118.8" x2="504.5" y2="90.4" stroke="#7c7c7c" stroke-width="0.45" /><line x1="592.0" y1="118.8" x2="504.5" y2="147.2" stroke="#7c7c7c" stroke-width="0.45" /><line x1="592.0" y1="118.8" x2="517.6" y2="172.9" stroke="#7c7c7c" stroke-width="0.45" /><line x1="592.0" y1="118.8" x2="537.9" y2="193.2" stroke="#c4c4c4" stroke-width="0.45" /><line x1="592.0" y1="118.8" x2="563.6" y2="206.3" stroke="#7c7c7c" stroke-width="0.45" /><line x1="592.0" y1="118.8" x2="620.4" y2="206.3" stroke="#7c7c7c" stroke-width="0.45" /><line x1="592.0" y1="118.8" x2="646.1" y2="193.2" stroke="#c4c4c4" stroke-width="0.45" /><line x1="592.0" y1="118.8" x2="666.4" y2="172.9" stroke="#7c7c7c" stroke-width="0.45" /><line x1="592.0" y1="118.8" x2="679.5" y2="147.2" stroke="#7c7c7c" stroke-width="0.45" /><line x1="679.5" y1="118.8" x2="675.2" y2="91.8" stroke="#7c7c7c" stroke-width="0.45" stroke-dasharray="1 1.2"/><line x1="675.2" y1="91.8" x2="662.8" y2="67.4" stroke="#7c7c7c" stroke-width="0.45" /><line x1="662.8" y1="67.4" x2="643.4" y2="48.0" stroke="#7c7c7c" stroke-width="0.45" /><line x1="643.4" y1="48.0" x2="619.0" y2="35.6" stroke="#7c7c7c" stroke-width="0.45" /><line x1="619.0" y1="35.6" x2="592.0" y2="31.3" stroke="#7c7c7c" stroke-width="0.45" stroke-dasharray="1 1.2"/><line x1="592.0" y1="31.3" x2="565.0" y2="35.6" stroke="#7c7c7c" stroke-width="0.45" stroke-dasharray="1 1.2"/><line x1="565.0" y1="35.6" x2="540.6" y2="48.0" stroke="#7c7c7c" stroke-width="0.45" /><line x1="540.6" y1="48.0" x2="521.2" y2="67.4" stroke="#7c7c7c" stroke-width="0.45" /><line x1="521.2" y1="67.4" x2="508.8" y2="91.8" stroke="#7c7c7c" stroke-width="0.45" /><line x1="508.8" y1="91.8" x2="504.5" y2="118.8" stroke="#7c7c7c" stroke-width="0.45" stroke-dasharray="1 1.2"/><line x1="504.5" y1="118.8" x2="508.8" y2="145.8" stroke="#7c7c7c" stroke-width="0.45" stroke-dasharray="1 1.2"/><line x1="508.8" y1="145.8" x2="521.2" y2="170.2" stroke="#7c7c7c" stroke-width="0.45" /><line x1="521.2" y1="170.2" x2="540.6" y2="189.6" stroke="#7c7c7c" stroke-width="0.45" /><line x1="540.6" y1="189.6" x2="565.0" y2="202.0" stroke="#7c7c7c" stroke-width="0.45" /><line x1="565.0" y1="202.0" x2="592.0" y2="206.3" stroke="#7c7c7c" stroke-width="0.45" stroke-dasharray="1 1.2"/><line x1="592.0" y1="206.3" x2="619.0" y2="202.0" stroke="#7c7c7c" stroke-width="0.45" stroke-dasharray="1 1.2"/><line x1="619.0" y1="202.0" x2="643.4" y2="189.6" stroke="#7c7c7c" stroke-width="0.45" /><line x1="643.4" y1="189.6" x2="662.8" y2="170.2" stroke="#7c7c7c" stroke-width="0.45" /><line x1="662.8" y1="170.2" x2="675.2" y2="145.8" stroke="#7c7c7c" stroke-width="0.45" /><line x1="675.2" y1="145.8" x2="679.5" y2="118.8" stroke="#7c7c7c" stroke-width="0.45" stroke-dasharray="1 1.2"/><line x1="666.4" y1="118.8" x2="662.8" y2="95.8" stroke="#7c7c7c" stroke-width="0.45" stroke-dasharray="1 1.2"/><line x1="662.8" y1="95.8" x2="652.2" y2="75.1" stroke="#7c7c7c" stroke-width="0.45" /><line x1="652.2" y1="75.1" x2="635.7" y2="58.6" stroke="#7c7c7c" stroke-width="0.45" /><line x1="635.7" y1="58.6" x2="615.0" y2="48.0" stroke="#7c7c7c" stroke-width="0.45" /><line x1="615.0" y1="48.0" x2="592.0" y2="44.4" stroke="#7c7c7c" stroke-width="0.45" stroke-dasharray="1 1.2"/><line x1="592.0" y1="44.4" x2="569.0" y2="48.0" stroke="#7c7c7c" stroke-width="0.45" stroke-dasharray="1 1.2"/><line x1="569.0" y1="48.0" x2="548.3" y2="58.6" stroke="#7c7c7c" stroke-width="0.45" /><line x1="548.3" y1="58.6" x2="531.8" y2="75.1" stroke="#7c7c7c" stroke-width="0.45" /><line x1="531.8" y1="75.1" x2="521.2" y2="95.8" stroke="#7c7c7c" stroke-width="0.45" /><line x1="521.2" y1="95.8" x2="517.6" y2="118.8" stroke="#7c7c7c" stroke-width="0.45" stroke-dasharray="1 1.2"/><line x1="517.6" y1="118.8" x2="521.2" y2="141.8" stroke="#7c7c7c" stroke-width="0.45" stroke-dasharray="1 1.2"/><line x1="521.2" y1="141.8" x2="531.8" y2="162.5" stroke="#7c7c7c" stroke-width="0.45" /><line x1="531.8" y1="162.5" x2="548.3" y2="179.0" stroke="#7c7c7c" stroke-width="0.45" /><line x1="548.3" y1="179.0" x2="569.0" y2="189.6" stroke="#7c7c7c" stroke-width="0.45" /><line x1="569.0" y1="189.6" x2="592.0" y2="193.2" stroke="#7c7c7c" stroke-width="0.45" stroke-dasharray="1 1.2"/><line x1="592.0" y1="193.2" x2="615.0" y2="189.6" stroke="#7c7c7c" stroke-width="0.45" stroke-dasharray="1 1.2"/><line x1="615.0" y1="189.6" x2="635.7" y2="179.0" stroke="#7c7c7c" stroke-width="0.45" /><line x1="635.7" y1="179.0" x2="652.2" y2="162.5" stroke="#7c7c7c" stroke-width="0.45" /><line x1="652.2" y1="162.5" x2="662.8" y2="141.8" stroke="#7c7c7c" stroke-width="0.45" /><line x1="662.8" y1="141.8" x2="666.4" y2="118.8" stroke="#7c7c7c" stroke-width="0.45" stroke-dasharray="1 1.2"/><line x1="646.1" y1="118.8" x2="643.4" y2="102.1" stroke="#7c7c7c" stroke-width="0.45" stroke-dasharray="1 1.2"/><line x1="643.4" y1="102.1" x2="635.7" y2="87.0" stroke="#7c7c7c" stroke-width="0.45" /><line x1="635.7" y1="87.0" x2="623.8" y2="75.1" stroke="#7c7c7c" stroke-width="0.45" /><line x1="623.8" y1="75.1" x2="608.7" y2="67.4" stroke="#7c7c7c" stroke-width="0.45" /><line x1="608.7" y1="67.4" x2="592.0" y2="64.7" stroke="#7c7c7c" stroke-width="0.45" stroke-dasharray="1 1.2"/><line x1="592.0" y1="64.7" x2="575.3" y2="67.4" stroke="#7c7c7c" stroke-width="0.45" stroke-dasharray="1 1.2"/><line x1="575.3" y1="67.4" x2="560.2" y2="75.1" stroke="#7c7c7c" stroke-width="0.45" /><line x1="560.2" y1="75.1" x2="548.3" y2="87.0" stroke="#7c7c7c" stroke-width="0.45" /><line x1="548.3" y1="87.0" x2="540.6" y2="102.1" stroke="#7c7c7c" stroke-width="0.45" /><line x1="540.6" y1="102.1" x2="537.9" y2="118.8" stroke="#7c7c7c" stroke-width="0.45" stroke-dasharray="1 1.2"/><line x1="537.9" y1="118.8" x2="540.6" y2="135.5" stroke="#7c7c7c" stroke-width="0.45" stroke-dasharray="1 1.2"/><line x1="540.6" y1="135.5" x2="548.3" y2="150.6" stroke="#7c7c7c" stroke-width="0.45" /><line x1="548.3" y1="150.6" x2="560.2" y2="162.5" stroke="#7c7c7c" stroke-width="0.45" /><line x1="560.2" y1="162.5" x2="575.3" y2="170.2" stroke="#7c7c7c" stroke-width="0.45" /><line x1="575.3" y1="170.2" x2="592.0" y2="172.9" stroke="#7c7c7c" stroke-width="0.45" stroke-dasharray="1 1.2"/><line x1="592.0" y1="172.9" x2="608.7" y2="170.2" stroke="#7c7c7c" stroke-width="0.45" stroke-dasharray="1 1.2"/><line x1="608.7" y1="170.2" x2="623.8" y2="162.5" stroke="#7c7c7c" stroke-width="0.45" /><line x1="623.8" y1="162.5" x2="635.7" y2="150.6" stroke="#7c7c7c" stroke-width="0.45" /><line x1="635.7" y1="150.6" x2="643.4" y2="135.5" stroke="#7c7c7c" stroke-width="0.45" /><line x1="643.4" y1="135.5" x2="646.1" y2="118.8" stroke="#7c7c7c" stroke-width="0.45" stroke-dasharray="1 1.2"/><line x1="620.4" y1="118.8" x2="619.0" y2="110.0" stroke="#7c7c7c" stroke-width="0.45" stroke-dasharray="1 1.2"/><line x1="619.0" y1="110.0" x2="615.0" y2="102.1" stroke="#7c7c7c" stroke-width="0.45" /><line x1="615.0" y1="102.1" x2="608.7" y2="95.8" stroke="#7c7c7c" stroke-width="0.45" /><line x1="608.7" y1="95.8" x2="600.8" y2="91.8" stroke="#7c7c7c" stroke-width="0.45" /><line x1="600.8" y1="91.8" x2="592.0" y2="90.4" stroke="#7c7c7c" stroke-width="0.45" stroke-dasharray="1 1.2"/><line x1="592.0" y1="90.4" x2="583.2" y2="91.8" stroke="#7c7c7c" stroke-width="0.45" stroke-dasharray="1 1.2"/><line x1="583.2" y1="91.8" x2="575.3" y2="95.8" stroke="#7c7c7c" stroke-width="0.45" /><line x1="575.3" y1="95.8" x2="569.0" y2="102.1" stroke="#7c7c7c" stroke-width="0.45" /><line x1="569.0" y1="102.1" x2="565.0" y2="110.0" stroke="#7c7c7c" stroke-width="0.45" /><line x1="565.0" y1="110.0" x2="563.6" y2="118.8" stroke="#7c7c7c" stroke-width="0.45" stroke-dasharray="1 1.2"/><line x1="563.6" y1="118.8" x2="565.0" y2="127.6" stroke="#7c7c7c" stroke-width="0.45" stroke-dasharray="1 1.2"/><line x1="565.0" y1="127.6" x2="569.0" y2="135.5" stroke="#7c7c7c" stroke-width="0.45" /><line x1="569.0" y1="135.5" x2="575.3" y2="141.8" stroke="#7c7c7c" stroke-width="0.45" /><line x1="575.3" y1="141.8" x2="583.2" y2="145.8" stroke="#7c7c7c" stroke-width="0.45" /><line x1="583.2" y1="145.8" x2="592.0" y2="147.2" stroke="#7c7c7c" stroke-width="0.45" stroke-dasharray="1 1.2"/><line x1="592.0" y1="147.2" x2="600.8" y2="145.8" stroke="#7c7c7c" stroke-width="0.45" stroke-dasharray="1 1.2"/><line x1="600.8" y1="145.8" x2="608.7" y2="141.8" stroke="#7c7c7c" stroke-width="0.45" /><line x1="608.7" y1="141.8" x2="615.0" y2="135.5" stroke="#7c7c7c" stroke-width="0.45" /><line x1="615.0" y1="135.5" x2="619.0" y2="127.6" stroke="#7c7c7c" stroke-width="0.45" /><line x1="619.0" y1="127.6" x2="620.4" y2="118.8" stroke="#7c7c7c" stroke-width="0.45" stroke-dasharray="1 1.2"/><line x1="499.8" y1="118.8" x2="684.0" y2="118.8" stroke="#5a5a5a" stroke-width="0.8" /></g></g><circle cx="499.8" cy="118.8" r="2.6" fill="#000"/><line x1="522.3" y1="448.0" x2="522.3" y2="269.0" stroke="#efefef" stroke-width="0.7" /><line x1="541.4" y1="448.0" x2="541.4" y2="269.0" stroke="#efefef" stroke-width="0.7" /><line x1="560.4" y1="448.0" x2="560.4" y2="269.0" stroke="#efefef" stroke-width="0.7" /><line x1="579.5" y1="448.0" x2="579.5" y2="269.0" stroke="#efefef" stroke-width="0.7" /><line x1="598.5" y1="448.0" x2="598.5" y2="269.0" stroke="#efefef" stroke-width="0.7" /><line x1="617.6" y1="448.0" x2="617.6" y2="269.0" stroke="#efefef" stroke-width="0.7" /><line x1="636.6" y1="448.0" x2="636.6" y2="269.0" stroke="#efefef" stroke-width="0.7" /><line x1="655.7" y1="448.0" x2="655.7" y2="269.0" stroke="#efefef" stroke-width="0.7" /><line x1="674.7" y1="448.0" x2="674.7" y2="269.0" stroke="#efefef" stroke-width="0.7" /><line x1="503.3" y1="434.7" x2="682.3" y2="434.7" stroke="#efefef" stroke-width="0.7" /><line x1="503.3" y1="415.6" x2="682.3" y2="415.6" stroke="#efefef" stroke-width="0.7" /><line x1="503.3" y1="396.6" x2="682.3" y2="396.6" stroke="#efefef" stroke-width="0.7" /><line x1="503.3" y1="377.6" x2="682.3" y2="377.6" stroke="#efefef" stroke-width="0.7" /><line x1="503.3" y1="358.5" x2="682.3" y2="358.5" stroke="#efefef" stroke-width="0.7" /><line x1="503.3" y1="339.4" x2="682.3" y2="339.4" stroke="#efefef" stroke-width="0.7" /><line x1="503.3" y1="320.4" x2="682.3" y2="320.4" stroke="#efefef" stroke-width="0.7" /><line x1="503.3" y1="301.4" x2="682.3" y2="301.4" stroke="#efefef" stroke-width="0.7" /><line x1="503.3" y1="282.3" x2="682.3" y2="282.3" stroke="#efefef" stroke-width="0.7" /><line x1="503.3" y1="448.0" x2="503.3" y2="269.0" stroke="#cfcfcf" stroke-width="0.9" /><line x1="503.3" y1="448.0" x2="682.3" y2="448.0" stroke="#cfcfcf" stroke-width="0.9" /><line x1="592.8" y1="448.0" x2="620.5" y2="443.7" stroke="#7c7c7c" stroke-width="0.45" /><line x1="620.5" y1="443.7" x2="645.4" y2="430.9" stroke="#7c7c7c" stroke-width="0.45" /><line x1="645.4" y1="430.9" x2="665.2" y2="411.1" stroke="#7c7c7c" stroke-width="0.45" /><line x1="665.2" y1="411.1" x2="678.0" y2="386.2" stroke="#7c7c7c" stroke-width="0.45" /><line x1="678.0" y1="386.2" x2="682.3" y2="358.5" stroke="#7c7c7c" stroke-width="0.45" /><line x1="682.3" y1="358.5" x2="678.0" y2="330.8" stroke="#7c7c7c" stroke-width="0.45" /><line x1="678.0" y1="330.8" x2="665.2" y2="305.9" stroke="#7c7c7c" stroke-width="0.45" /><line x1="665.2" y1="305.9" x2="645.4" y2="286.1" stroke="#7c7c7c" stroke-width="0.45" /><line x1="645.4" y1="286.1" x2="620.5" y2="273.3" stroke="#7c7c7c" stroke-width="0.45" /><line x1="620.5" y1="273.3" x2="592.8" y2="269.0" stroke="#7c7c7c" stroke-width="0.45" /><line x1="592.8" y1="448.0" x2="565.1" y2="443.7" stroke="#7c7c7c" stroke-width="0.45" /><line x1="565.1" y1="443.7" x2="540.2" y2="430.9" stroke="#7c7c7c" stroke-width="0.45" /><line x1="540.2" y1="430.9" x2="520.4" y2="411.1" stroke="#7c7c7c" stroke-width="0.45" /><line x1="520.4" y1="411.1" x2="507.6" y2="386.2" stroke="#7c7c7c" stroke-width="0.45" /><line x1="507.6" y1="386.2" x2="503.3" y2="358.5" stroke="#7c7c7c" stroke-width="0.45" /><line x1="503.3" y1="358.5" x2="507.6" y2="330.8" stroke="#7c7c7c" stroke-width="0.45" /><line x1="507.6" y1="330.8" x2="520.4" y2="305.9" stroke="#7c7c7c" stroke-width="0.45" /><line x1="520.4" y1="305.9" x2="540.2" y2="286.1" stroke="#7c7c7c" stroke-width="0.45" /><line x1="540.2" y1="286.1" x2="565.1" y2="273.3" stroke="#7c7c7c" stroke-width="0.45" /><line x1="565.1" y1="273.3" x2="592.8" y2="269.0" stroke="#7c7c7c" stroke-width="0.45" /><line x1="592.8" y1="448.0" x2="619.1" y2="443.7" stroke="#7c7c7c" stroke-width="0.45" /><line x1="619.1" y1="443.7" x2="642.8" y2="430.9" stroke="#7c7c7c" stroke-width="0.45" /><line x1="642.8" y1="430.9" x2="661.7" y2="411.1" stroke="#7c7c7c" stroke-width="0.45" /><line x1="661.7" y1="411.1" x2="673.8" y2="386.2" stroke="#7c7c7c" stroke-width="0.45" /><line x1="673.8" y1="386.2" x2="677.9" y2="358.5" stroke="#7c7c7c" stroke-width="0.45" /><line x1="677.9" y1="358.5" x2="673.8" y2="330.8" stroke="#7c7c7c" stroke-width="0.45" /><line x1="673.8" y1="330.8" x2="661.7" y2="305.9" stroke="#7c7c7c" stroke-width="0.45" /><line x1="661.7" y1="305.9" x2="642.8" y2="286.1" stroke="#7c7c7c" stroke-width="0.45" /><line x1="642.8" y1="286.1" x2="619.1" y2="273.3" stroke="#7c7c7c" stroke-width="0.45" /><line x1="619.1" y1="273.3" x2="592.8" y2="269.0" stroke="#7c7c7c" stroke-width="0.45" /><line x1="592.8" y1="448.0" x2="566.5" y2="443.7" stroke="#7c7c7c" stroke-width="0.45" /><line x1="566.5" y1="443.7" x2="542.8" y2="430.9" stroke="#7c7c7c" stroke-width="0.45" /><line x1="542.8" y1="430.9" x2="523.9" y2="411.1" stroke="#7c7c7c" stroke-width="0.45" /><line x1="523.9" y1="411.1" x2="511.8" y2="386.2" stroke="#7c7c7c" stroke-width="0.45" /><line x1="511.8" y1="386.2" x2="507.7" y2="358.5" stroke="#7c7c7c" stroke-width="0.45" /><line x1="507.7" y1="358.5" x2="511.8" y2="330.8" stroke="#7c7c7c" stroke-width="0.45" /><line x1="511.8" y1="330.8" x2="523.9" y2="305.9" stroke="#7c7c7c" stroke-width="0.45" /><line x1="523.9" y1="305.9" x2="542.8" y2="286.1" stroke="#7c7c7c" stroke-width="0.45" /><line x1="542.8" y1="286.1" x2="566.5" y2="273.3" stroke="#7c7c7c" stroke-width="0.45" /><line x1="566.5" y1="273.3" x2="592.8" y2="269.0" stroke="#7c7c7c" stroke-width="0.45" /><line x1="592.8" y1="448.0" x2="615.2" y2="443.7" stroke="#7c7c7c" stroke-width="0.45" /><line x1="615.2" y1="443.7" x2="635.4" y2="430.9" stroke="#7c7c7c" stroke-width="0.45" /><line x1="635.4" y1="430.9" x2="651.4" y2="411.1" stroke="#7c7c7c" stroke-width="0.45" /><line x1="651.4" y1="411.1" x2="661.7" y2="386.2" stroke="#7c7c7c" stroke-width="0.45" /><line x1="661.7" y1="386.2" x2="665.2" y2="358.5" stroke="#7c7c7c" stroke-width="0.45" stroke-dasharray="2.5 1.3"/><line x1="665.2" y1="358.5" x2="661.7" y2="330.8" stroke="#7c7c7c" stroke-width="0.45" stroke-dasharray="2.5 1.3"/><line x1="661.7" y1="330.8" x2="651.4" y2="305.9" stroke="#7c7c7c" stroke-width="0.45" /><line x1="651.4" y1="305.9" x2="635.4" y2="286.1" stroke="#7c7c7c" stroke-width="0.45" /><line x1="635.4" y1="286.1" x2="615.2" y2="273.3" stroke="#7c7c7c" stroke-width="0.45" /><line x1="615.2" y1="273.3" x2="592.8" y2="269.0" stroke="#7c7c7c" stroke-width="0.45" /><line x1="592.8" y1="448.0" x2="570.4" y2="443.7" stroke="#7c7c7c" stroke-width="0.45" /><line x1="570.4" y1="443.7" x2="550.2" y2="430.9" stroke="#7c7c7c" stroke-width="0.45" /><line x1="550.2" y1="430.9" x2="534.2" y2="411.1" stroke="#7c7c7c" stroke-width="0.45" /><line x1="534.2" y1="411.1" x2="523.9" y2="386.2" stroke="#7c7c7c" stroke-width="0.45" /><line x1="523.9" y1="386.2" x2="520.4" y2="358.5" stroke="#7c7c7c" stroke-width="0.45" stroke-dasharray="2.5 1.3"/><line x1="520.4" y1="358.5" x2="523.9" y2="330.8" stroke="#7c7c7c" stroke-width="0.45" stroke-dasharray="2.5 1.3"/><line x1="523.9" y1="330.8" x2="534.2" y2="305.9" stroke="#7c7c7c" stroke-width="0.45" /><line x1="534.2" y1="305.9" x2="550.2" y2="286.1" stroke="#7c7c7c" stroke-width="0.45" /><line x1="550.2" y1="286.1" x2="570.4" y2="273.3" stroke="#7c7c7c" stroke-width="0.45" /><line x1="570.4" y1="273.3" x2="592.8" y2="269.0" stroke="#7c7c7c" stroke-width="0.45" /><line x1="592.8" y1="448.0" x2="609.1" y2="443.7" stroke="#7c7c7c" stroke-width="0.45" /><line x1="609.1" y1="443.7" x2="623.7" y2="430.9" stroke="#7c7c7c" stroke-width="0.45" /><line x1="623.7" y1="430.9" x2="635.4" y2="411.1" stroke="#7c7c7c" stroke-width="0.45" /><line x1="635.4" y1="411.1" x2="642.9" y2="386.2" stroke="#7c7c7c" stroke-width="0.45" /><line x1="642.9" y1="386.2" x2="645.4" y2="358.5" stroke="#7c7c7c" stroke-width="0.45" stroke-dasharray="2.5 1.3"/><line x1="645.4" y1="358.5" x2="642.9" y2="330.8" stroke="#7c7c7c" stroke-width="0.45" stroke-dasharray="2.5 1.3"/><line x1="642.9" y1="330.8" x2="635.4" y2="305.9" stroke="#7c7c7c" stroke-width="0.45" /><line x1="635.4" y1="305.9" x2="623.7" y2="286.1" stroke="#7c7c7c" stroke-width="0.45" /><line x1="623.7" y1="286.1" x2="609.1" y2="273.3" stroke="#7c7c7c" stroke-width="0.45" /><line x1="609.1" y1="273.3" x2="592.8" y2="269.0" stroke="#7c7c7c" stroke-width="0.45" /><line x1="592.8" y1="448.0" x2="576.5" y2="443.7" stroke="#7c7c7c" stroke-width="0.45" /><line x1="576.5" y1="443.7" x2="561.9" y2="430.9" stroke="#7c7c7c" stroke-width="0.45" /><line x1="561.9" y1="430.9" x2="550.2" y2="411.1" stroke="#7c7c7c" stroke-width="0.45" /><line x1="550.2" y1="411.1" x2="542.7" y2="386.2" stroke="#7c7c7c" stroke-width="0.45" /><line x1="542.7" y1="386.2" x2="540.2" y2="358.5" stroke="#7c7c7c" stroke-width="0.45" stroke-dasharray="2.5 1.3"/><line x1="540.2" y1="358.5" x2="542.7" y2="330.8" stroke="#7c7c7c" stroke-width="0.45" stroke-dasharray="2.5 1.3"/><line x1="542.7" y1="330.8" x2="550.2" y2="305.9" stroke="#7c7c7c" stroke-width="0.45" /><line x1="550.2" y1="305.9" x2="561.9" y2="286.1" stroke="#7c7c7c" stroke-width="0.45" /><line x1="561.9" y1="286.1" x2="576.5" y2="273.3" stroke="#7c7c7c" stroke-width="0.45" /><line x1="576.5" y1="273.3" x2="592.8" y2="269.0" stroke="#7c7c7c" stroke-width="0.45" /><line x1="592.8" y1="448.0" x2="601.3" y2="443.7" stroke="#7c7c7c" stroke-width="0.45" /><line x1="601.3" y1="443.7" x2="609.1" y2="430.9" stroke="#7c7c7c" stroke-width="0.45" /><line x1="609.1" y1="430.9" x2="615.2" y2="411.1" stroke="#7c7c7c" stroke-width="0.45" /><line x1="615.2" y1="411.1" x2="619.1" y2="386.2" stroke="#7c7c7c" stroke-width="0.45" /><line x1="619.1" y1="386.2" x2="620.5" y2="358.5" stroke="#7c7c7c" stroke-width="0.45" stroke-dasharray="2.5 1.3"/><line x1="620.5" y1="358.5" x2="619.1" y2="330.8" stroke="#7c7c7c" stroke-width="0.45" stroke-dasharray="2.5 1.3"/><line x1="619.1" y1="330.8" x2="615.2" y2="305.9" stroke="#7c7c7c" stroke-width="0.45" /><line x1="615.2" y1="305.9" x2="609.1" y2="286.1" stroke="#7c7c7c" stroke-width="0.45" /><line x1="609.1" y1="286.1" x2="601.3" y2="273.3" stroke="#7c7c7c" stroke-width="0.45" /><line x1="601.3" y1="273.3" x2="592.8" y2="269.0" stroke="#7c7c7c" stroke-width="0.45" /><line x1="592.8" y1="448.0" x2="584.3" y2="443.7" stroke="#7c7c7c" stroke-width="0.45" /><line x1="584.3" y1="443.7" x2="576.5" y2="430.9" stroke="#7c7c7c" stroke-width="0.45" /><line x1="576.5" y1="430.9" x2="570.4" y2="411.1" stroke="#7c7c7c" stroke-width="0.45" /><line x1="570.4" y1="411.1" x2="566.5" y2="386.2" stroke="#7c7c7c" stroke-width="0.45" /><line x1="566.5" y1="386.2" x2="565.1" y2="358.5" stroke="#7c7c7c" stroke-width="0.45" stroke-dasharray="2.5 1.3"/><line x1="565.1" y1="358.5" x2="566.5" y2="330.8" stroke="#7c7c7c" stroke-width="0.45" stroke-dasharray="2.5 1.3"/><line x1="566.5" y1="330.8" x2="570.4" y2="305.9" stroke="#7c7c7c" stroke-width="0.45" /><line x1="570.4" y1="305.9" x2="576.5" y2="286.1" stroke="#7c7c7c" stroke-width="0.45" /><line x1="576.5" y1="286.1" x2="584.3" y2="273.3" stroke="#7c7c7c" stroke-width="0.45" /><line x1="584.3" y1="273.3" x2="592.8" y2="269.0" stroke="#7c7c7c" stroke-width="0.45" /><line x1="507.6" y1="330.8" x2="678.0" y2="330.8" stroke="#6a6a6a" stroke-width="0.7" /><line x1="507.6" y1="386.2" x2="678.0" y2="386.2" stroke="#6a6a6a" stroke-width="0.7" /><line x1="540.2" y1="286.1" x2="645.4" y2="286.1" stroke="#a0a0a0" stroke-width="0.7" /><line x1="540.2" y1="430.9" x2="645.4" y2="430.9" stroke="#a0a0a0" stroke-width="0.7" /><line x1="565.1" y1="273.3" x2="620.5" y2="273.3" stroke="#b0b0b0" stroke-width="0.7" /><line x1="565.1" y1="443.7" x2="620.5" y2="443.7" stroke="#b0b0b0" stroke-width="0.7" /><line x1="503.4" y1="358.5" x2="682.0" y2="358.5" stroke="#5a5a5a" stroke-width="0.8" /><polygon points="524.8,287.5 529.6,293.4 533.7,299.3 537.3,305.2 540.4,311.2 543.1,317.1 545.3,323.0 547.2,328.9 548.7,334.8 549.8,340.8 550.7,346.7 551.1,352.6 551.3,358.5 551.1,364.4 550.7,370.3 549.8,376.2 548.7,382.2 547.2,388.1 545.3,394.0 543.1,399.9 540.4,405.8 537.3,411.8 533.7,417.7 529.6,423.6 524.8,429.5 521.3,425.5 521.3,291.5" fill="#ffff00"/><polygon points="539.2,308.7 541.2,312.9 543.1,317.0 544.7,321.2 546.1,325.3 547.3,329.5 548.4,333.6 549.3,337.8 550.0,341.9 550.6,346.1 551.0,350.2 551.2,354.4 551.3,358.5 551.2,362.6 551.0,366.8 550.6,370.9 550.0,375.1 549.3,379.2 548.4,383.4 547.3,387.5 546.1,391.7 544.7,395.8 543.1,400.0 541.2,404.1 539.2,408.3" fill="#00ff00"/><clipPath id="ac"><polygon points="524.8,287.5 529.6,293.4 533.7,299.3 537.3,305.2 540.4,311.2 543.1,317.1 545.3,323.0 547.2,328.9 548.7,334.8 549.8,340.8 550.7,346.7 551.1,352.6 551.3,358.5 551.1,364.4 550.7,370.3 549.8,376.2 548.7,382.2 547.2,388.1 545.3,394.0 543.1,399.9 540.4,405.8 537.3,411.8 533.7,417.7 529.6,423.6 524.8,429.5 521.3,425.5 521.3,291.5"/></clipPath><clipPath id="acb"><rect x="527.0" y="0" width="200" height="476"/></clipPath><g clip-path="url(#ac)"><g clip-path="url(#acb)"><line x1="592.8" y1="448.0" x2="615.2" y2="443.7" stroke="#7c7c7c" stroke-width="0.45" /><line x1="615.2" y1="443.7" x2="635.4" y2="430.9" stroke="#7c7c7c" stroke-width="0.45" /><line x1="635.4" y1="430.9" x2="651.4" y2="411.1" stroke="#7c7c7c" stroke-width="0.45" /><line x1="651.4" y1="411.1" x2="661.7" y2="386.2" stroke="#7c7c7c" stroke-width="0.45" /><line x1="661.7" y1="386.2" x2="665.2" y2="358.5" stroke="#7c7c7c" stroke-width="0.45" stroke-dasharray="2.5 1.3"/><line x1="665.2" y1="358.5" x2="661.7" y2="330.8" stroke="#7c7c7c" stroke-width="0.45" stroke-dasharray="2.5 1.3"/><line x1="661.7" y1="330.8" x2="651.4" y2="305.9" stroke="#7c7c7c" stroke-width="0.45" /><line x1="651.4" y1="305.9" x2="635.4" y2="286.1" stroke="#7c7c7c" stroke-width="0.45" /><line x1="635.4" y1="286.1" x2="615.2" y2="273.3" stroke="#7c7c7c" stroke-width="0.45" /><line x1="615.2" y1="273.3" x2="592.8" y2="269.0" stroke="#7c7c7c" stroke-width="0.45" /><line x1="592.8" y1="448.0" x2="570.4" y2="443.7" stroke="#7c7c7c" stroke-width="0.45" /><line x1="570.4" y1="443.7" x2="550.2" y2="430.9" stroke="#7c7c7c" stroke-width="0.45" /><line x1="550.2" y1="430.9" x2="534.2" y2="411.1" stroke="#7c7c7c" stroke-width="0.45" /><line x1="534.2" y1="411.1" x2="523.9" y2="386.2" stroke="#7c7c7c" stroke-width="0.45" /><line x1="523.9" y1="386.2" x2="520.4" y2="358.5" stroke="#7c7c7c" stroke-width="0.45" stroke-dasharray="2.5 1.3"/><line x1="520.4" y1="358.5" x2="523.9" y2="330.8" stroke="#7c7c7c" stroke-width="0.45" stroke-dasharray="2.5 1.3"/><line x1="523.9" y1="330.8" x2="534.2" y2="305.9" stroke="#7c7c7c" stroke-width="0.45" /><line x1="534.2" y1="305.9" x2="550.2" y2="286.1" stroke="#7c7c7c" stroke-width="0.45" /><line x1="550.2" y1="286.1" x2="570.4" y2="273.3" stroke="#7c7c7c" stroke-width="0.45" /><line x1="570.4" y1="273.3" x2="592.8" y2="269.0" stroke="#7c7c7c" stroke-width="0.45" /><line x1="592.8" y1="448.0" x2="609.1" y2="443.7" stroke="#7c7c7c" stroke-width="0.45" /><line x1="609.1" y1="443.7" x2="623.7" y2="430.9" stroke="#7c7c7c" stroke-width="0.45" /><line x1="623.7" y1="430.9" x2="635.4" y2="411.1" stroke="#7c7c7c" stroke-width="0.45" /><line x1="635.4" y1="411.1" x2="642.9" y2="386.2" stroke="#7c7c7c" stroke-width="0.45" /><line x1="642.9" y1="386.2" x2="645.4" y2="358.5" stroke="#7c7c7c" stroke-width="0.45" stroke-dasharray="2.5 1.3"/><line x1="645.4" y1="358.5" x2="642.9" y2="330.8" stroke="#7c7c7c" stroke-width="0.45" stroke-dasharray="2.5 1.3"/><line x1="642.9" y1="330.8" x2="635.4" y2="305.9" stroke="#7c7c7c" stroke-width="0.45" /><line x1="635.4" y1="305.9" x2="623.7" y2="286.1" stroke="#7c7c7c" stroke-width="0.45" /><line x1="623.7" y1="286.1" x2="609.1" y2="273.3" stroke="#7c7c7c" stroke-width="0.45" /><line x1="609.1" y1="273.3" x2="592.8" y2="269.0" stroke="#7c7c7c" stroke-width="0.45" /><line x1="592.8" y1="448.0" x2="576.5" y2="443.7" stroke="#7c7c7c" stroke-width="0.45" /><line x1="576.5" y1="443.7" x2="561.9" y2="430.9" stroke="#7c7c7c" stroke-width="0.45" /><line x1="561.9" y1="430.9" x2="550.2" y2="411.1" stroke="#7c7c7c" stroke-width="0.45" /><line x1="550.2" y1="411.1" x2="542.7" y2="386.2" stroke="#7c7c7c" stroke-width="0.45" /><line x1="542.7" y1="386.2" x2="540.2" y2="358.5" stroke="#7c7c7c" stroke-width="0.45" stroke-dasharray="2.5 1.3"/><line x1="540.2" y1="358.5" x2="542.7" y2="330.8" stroke="#7c7c7c" stroke-width="0.45" stroke-dasharray="2.5 1.3"/><line x1="542.7" y1="330.8" x2="550.2" y2="305.9" stroke="#7c7c7c" stroke-width="0.45" /><line x1="550.2" y1="305.9" x2="561.9" y2="286.1" stroke="#7c7c7c" stroke-width="0.45" /><line x1="561.9" y1="286.1" x2="576.5" y2="273.3" stroke="#7c7c7c" stroke-width="0.45" /><line x1="576.5" y1="273.3" x2="592.8" y2="269.0" stroke="#7c7c7c" stroke-width="0.45" /><line x1="592.8" y1="448.0" x2="601.3" y2="443.7" stroke="#7c7c7c" stroke-width="0.45" /><line x1="601.3" y1="443.7" x2="609.1" y2="430.9" stroke="#7c7c7c" stroke-width="0.45" /><line x1="609.1" y1="430.9" x2="615.2" y2="411.1" stroke="#7c7c7c" stroke-width="0.45" /><line x1="615.2" y1="411.1" x2="619.1" y2="386.2" stroke="#7c7c7c" stroke-width="0.45" /><line x1="619.1" y1="386.2" x2="620.5" y2="358.5" stroke="#7c7c7c" stroke-width="0.45" stroke-dasharray="2.5 1.3"/><line x1="620.5" y1="358.5" x2="619.1" y2="330.8" stroke="#7c7c7c" stroke-width="0.45" stroke-dasharray="2.5 1.3"/><line x1="619.1" y1="330.8" x2="615.2" y2="305.9" stroke="#7c7c7c" stroke-width="0.45" /><line x1="615.2" y1="305.9" x2="609.1" y2="286.1" stroke="#7c7c7c" stroke-width="0.45" /><line x1="609.1" y1="286.1" x2="601.3" y2="273.3" stroke="#7c7c7c" stroke-width="0.45" /><line x1="601.3" y1="273.3" x2="592.8" y2="269.0" stroke="#7c7c7c" stroke-width="0.45" /><line x1="592.8" y1="448.0" x2="584.3" y2="443.7" stroke="#7c7c7c" stroke-width="0.45" /><line x1="584.3" y1="443.7" x2="576.5" y2="430.9" stroke="#7c7c7c" stroke-width="0.45" /><line x1="576.5" y1="430.9" x2="570.4" y2="411.1" stroke="#7c7c7c" stroke-width="0.45" /><line x1="570.4" y1="411.1" x2="566.5" y2="386.2" stroke="#7c7c7c" stroke-width="0.45" /><line x1="566.5" y1="386.2" x2="565.1" y2="358.5" stroke="#7c7c7c" stroke-width="0.45" stroke-dasharray="2.5 1.3"/><line x1="565.1" y1="358.5" x2="566.5" y2="330.8" stroke="#7c7c7c" stroke-width="0.45" stroke-dasharray="2.5 1.3"/><line x1="566.5" y1="330.8" x2="570.4" y2="305.9" stroke="#7c7c7c" stroke-width="0.45" /><line x1="570.4" y1="305.9" x2="576.5" y2="286.1" stroke="#7c7c7c" stroke-width="0.45" /><line x1="576.5" y1="286.1" x2="584.3" y2="273.3" stroke="#7c7c7c" stroke-width="0.45" /><line x1="584.3" y1="273.3" x2="592.8" y2="269.0" stroke="#7c7c7c" stroke-width="0.45" /><line x1="507.6" y1="330.8" x2="678.0" y2="330.8" stroke="#6a6a6a" stroke-width="0.7" /><line x1="507.6" y1="386.2" x2="678.0" y2="386.2" stroke="#6a6a6a" stroke-width="0.7" /><line x1="540.2" y1="286.1" x2="645.4" y2="286.1" stroke="#a0a0a0" stroke-width="0.7" /><line x1="540.2" y1="430.9" x2="645.4" y2="430.9" stroke="#a0a0a0" stroke-width="0.7" /><line x1="565.1" y1="273.3" x2="620.5" y2="273.3" stroke="#b0b0b0" stroke-width="0.7" /><line x1="565.1" y1="443.7" x2="620.5" y2="443.7" stroke="#b0b0b0" stroke-width="0.7" /><line x1="503.4" y1="358.5" x2="682.0" y2="358.5" stroke="#5a5a5a" stroke-width="0.8" /></g></g><circle cx="503.4" cy="358.5" r="2.6" fill="#000"/><g font-family="Liberation Serif" fill="#0a0a0a"><text stroke="#0a0a0a" stroke-width="0.3" x="530.6" y="15.9" font-size="22.5" textLength="117.7" lengthAdjust="spacingAndGlyphs">Lateral View</text><text stroke="#0a0a0a" stroke-width="0.3" x="554.7" y="261.2" font-size="22.5" textLength="78" lengthAdjust="spacingAndGlyphs">AP View</text><g font-size="10.5" text-anchor="middle" fill="#2a2a2a"><text x="499.8" y="222.5">0</text><text x="557.8" y="222.5">15</text><text x="618.0" y="222.5">30</text><text x="675.4" y="222.5">45</text><text x="503.4" y="460.6">0</text><text x="562.1" y="460.6">15</text><text x="619.2" y="460.6">30</text><text x="676.0" y="460.6">45</text></g><g font-size="10.5" text-anchor="end" fill="#2a2a2a"><text x="495.5" y="48.1">20</text><text x="495.5" y="84.8">10</text><text x="491.6" y="122.5">0</text><text x="495.5" y="161.0">-10</text><text x="495.5" y="200.6">-20</text><text x="499.0" y="289.4">20</text><text x="499.0" y="325.7">10</text><text x="496.3" y="362.7">0</text><text x="499.0" y="399.4">-10</text><text x="499.0" y="436.5">-20</text></g><g font-size="18" text-anchor="middle" stroke="#0a0a0a" stroke-width="0.25"><text x="596.5" y="234">x (mm)</text><text x="601" y="470.7">x (mm)</text><text transform="translate(478.2,116.1) rotate(-90)">y(mm)</text><text transform="translate(481,357.8) rotate(-90)">z(mm)</text></g></g></svg></body></html>
